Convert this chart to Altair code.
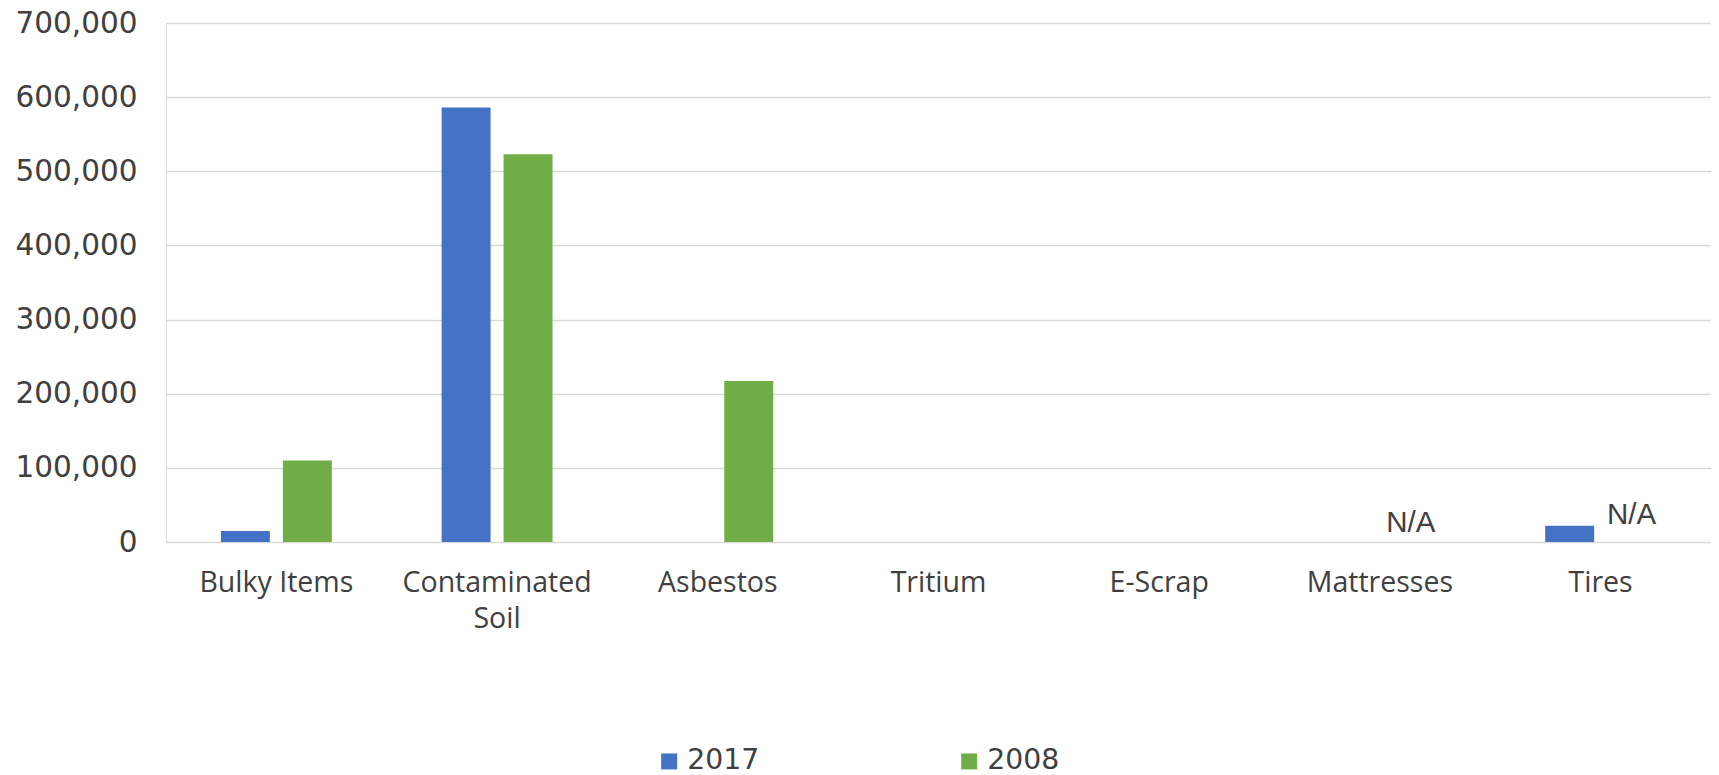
import altair as alt
import pandas as pd

categories = ["Bulky Items", "Contaminated Soil", "Asbestos", "Tritium", "E-Scrap", "Mattresses", "Tires"]
series = ["2017", "2008"]
values_2017 = [15000, 586000, None, None, None, None, 22000]
values_2008 = [110000, 523000, 217000, None, None, None, None]
na_labels = [("Mattresses", "2008", "N/A"), ("Tires", "2008", "N/A")]
y_ticks = [0, 100000, 200000, 300000, 400000, 500000, 600000, 700000]

rows = []
for c, v17, v08 in zip(categories, values_2017, values_2008):
    rows.append({"category": c, "series": "2017", "value": v17})
    rows.append({"category": c, "series": "2008", "value": v08})
df = pd.DataFrame(rows)
df_na = pd.DataFrame([{"category": c, "series": s, "label": t, "value": 0} for c, s, t in na_labels])

colors = ["#4472C4", "#70AD47"]

x_enc = alt.X(
    "category:N",
    sort=categories,
    scale=alt.Scale(domain=categories, paddingInner=0, paddingOuter=0),
    axis=alt.Axis(
        title=None,
        labelAngle=0,
        labelFont="Open Sans",
        labelFontSize=28.5,
        labelColor="#404040",
        labelPadding=26,
        labelLimit=400,
        labelLineHeight=36,
        labelBaseline="top",
        labelExpr="datum.label == 'Contaminated Soil' ? ['Contaminated', 'Soil'] : datum.label",
        ticks=False,
        domain=False,
        grid=False,
    ),
)
xoff_enc = alt.XOffset(
    "series:N",
    sort=series,
    scale=alt.Scale(domain=series, paddingInner=0.21, paddingOuter=0.886),
)
y_scale = alt.Scale(domain=[0, 700000], nice=False)

bars = alt.Chart(df).transform_filter("datum.value != null").mark_bar().encode(
    x=x_enc,
    xOffset=xoff_enc,
    y=alt.Y(
        "value:Q",
        scale=y_scale,
        axis=alt.Axis(
            title=None,
            values=y_ticks,
            format=",.0f",
            labelFont="DejaVu Sans",
            labelFontSize=29.5,
            labelColor="#404040",
            labelPadding=29,
            ticks=False,
            domain=False,
            grid=True,
            gridColor="#d9d9d9",
            gridWidth=1.5,
        ),
    ),
    color=alt.Color(
        "series:N",
        sort=series,
        scale=alt.Scale(domain=series, range=colors),
        legend=alt.Legend(
            title=None,
            orient="none",
            legendX=489,
            legendY=724,
            direction="horizontal",
            symbolType="square",
            symbolSize=256,
            symbolStrokeWidth=0,
            symbolOpacity=1,
            labelFont="DejaVu Sans",
            labelFontSize=28.3,
            labelColor="#404040",
            labelOffset=4,
            columnPadding=195,
        ),
    ),
)

def na_layer(cat, dy):
    return alt.Chart(df_na).transform_filter(alt.datum.category == cat).mark_text(
        font="Liberation Sans", fontSize=29.5, color="#404040", baseline="alphabetic", align="center", dy=dy
    ).encode(
        x=alt.X("category:N", sort=categories),
        xOffset=alt.XOffset("series:N", sort=series),
        y=alt.Y("value:Q"),
        text="label:N",
    )

chart = alt.layer(bars, na_layer("Mattresses", -10), na_layer("Tires", -18)).properties(
    width=1545,
    height=519,
    padding={"left": 158, "top": 15, "right": 0, "bottom": 236},
    autosize=alt.AutoSizeParams(type="none"),
).configure_view(stroke=None).configure(background="white")

chart.save("out.html", embed_options={"renderer": "svg", "actions": False})
